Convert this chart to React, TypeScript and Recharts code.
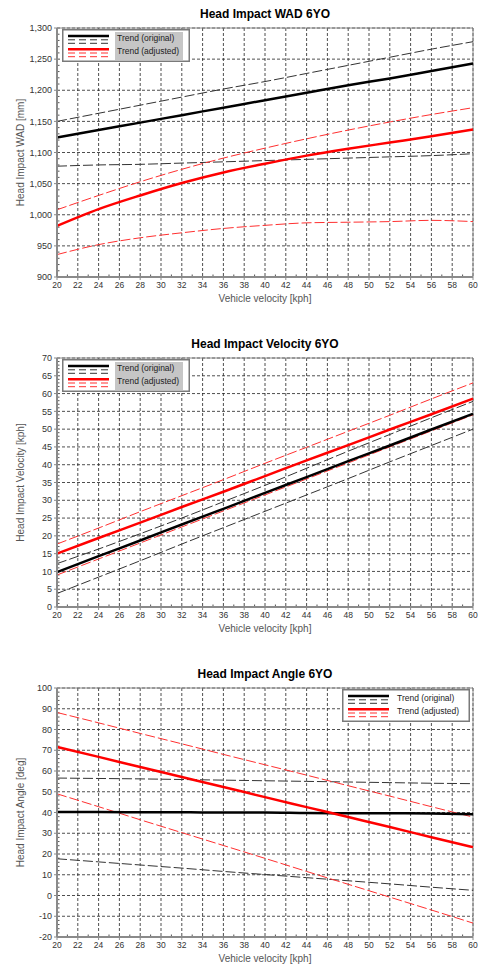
import { LineChart, Line, XAxis, YAxis, CartesianGrid, ReferenceArea, ReferenceLine } from "recharts";

// vehicle velocity [kph] at which each trend value was read
const velocity = [20, 24, 28, 32, 36, 40, 44, 48, 52, 56, 60];
const xTicks = [20, 22, 24, 26, 28, 30, 32, 34, 36, 38, 40, 42, 44, 46, 48, 50, 52, 54, 56, 58, 60];

// Head Impact WAD [mm]
const wadOriginal = [1124, 1136, 1148, 1160, 1172, 1184, 1196, 1208, 1219, 1231, 1243];
const wadOriginalHi = [1150, 1163, 1176, 1189, 1202, 1214, 1227, 1240, 1253, 1266, 1278];
const wadOriginalLo = [1078, 1080, 1081, 1083, 1085, 1087, 1089, 1091, 1093, 1095, 1098];
const wadAdjusted = [982, 1009, 1031, 1051, 1068, 1082, 1095, 1106, 1116, 1126, 1137];
const wadAdjustedHi = [1008, 1031, 1053, 1073, 1091, 1107, 1122, 1136, 1149, 1161, 1172];
const wadAdjustedLo = [936, 952, 963, 971, 978, 983, 987, 988, 989, 991, 989];
const wadTicks = [900, 950, 1000, 1050, 1100, 1150, 1200, 1250, 1300];

// Head Impact Velocity [kph]
const velOriginal = [9.8, 14.3, 18.7, 23.2, 27.6, 32.1, 36.5, 41.0, 45.4, 49.9, 54.3];
const velOriginalHi = [12.2, 16.3, 20.6, 25.0, 29.6, 34.2, 39.0, 43.8, 48.5, 53.2, 57.8];
const velOriginalLo = [3.8, 8.4, 13.0, 17.7, 22.3, 26.9, 31.5, 36.1, 40.8, 45.4, 50.0];
const velAdjusted = [15.0, 19.4, 23.7, 28.1, 32.4, 36.8, 41.2, 45.5, 49.9, 54.2, 58.6];
const velAdjustedHi = [17.7, 22.2, 26.8, 31.3, 35.8, 40.4, 44.9, 49.4, 53.9, 58.5, 63.0];
const velAdjustedLo = [9.0, 13.5, 18.0, 22.5, 27.0, 31.5, 36.0, 40.5, 45.0, 49.5, 54.0];
const velTicks = [0, 5, 10, 15, 20, 25, 30, 35, 40, 45, 50, 55, 60, 65, 70];

// Head Impact Angle [deg]
const angOriginal = [40.3, 40.2, 40.1, 40.1, 40.0, 40.0, 39.7, 39.6, 39.6, 39.5, 39.2];
const angOriginalHi = [56.6, 56.4, 56.2, 55.9, 55.6, 55.3, 55.0, 54.7, 54.4, 54.1, 53.9];
const angOriginalLo = [17.7, 16.2, 14.7, 13.2, 11.6, 10.1, 8.6, 7.1, 5.6, 4.0, 2.5];
const angAdjusted = [71.6, 66.8, 61.9, 57.1, 52.3, 47.4, 42.6, 37.8, 33.0, 28.1, 23.3];
const angAdjustedHi = [88.2, 83.2, 78.1, 73.1, 68.0, 63.0, 58.0, 52.9, 47.9, 42.8, 37.8];
const angAdjustedLo = [49.0, 42.8, 36.5, 30.3, 24.1, 17.9, 11.6, 5.4, -0.8, -7.0, -13.3];
const angTicks = [-20, -10, 0, 10, 20, 30, 40, 50, 60, 70, 80, 90, 100];

const FONT = '"Liberation Sans", Arial, sans-serif';
const RED = "#ff0000";
const RED_DASH = "#ff3030";
const BLACK_DASH = "#333333";
const FRAME = "#8a8a8a";
const PLOT_W = 416;
const PLOT_H = 249;

type Row = { v: number; orig: number; origHi: number; origLo: number; adj: number; adjHi: number; adjLo: number };

function buildRows(orig: number[], origHi: number[], origLo: number[], adj: number[], adjHi: number[], adjLo: number[]): Row[] {
  return velocity.map((v, i) => ({
    v,
    orig: orig[i],
    origHi: origHi[i],
    origLo: origLo[i],
    adj: adj[i],
    adjHi: adjHi[i],
    adjLo: adjLo[i],
  }));
}

// four minor ticks between each pair of major ticks
function minorTicks(major: number[]) {
  const out: number[] = [];
  for (let i = 0; i < major.length - 1; i++) {
    const step = (major[i + 1] - major[i]) / 5;
    for (let k = 1; k < 5; k++) out.push(major[i] + step * k);
  }
  return out;
}

function LegendBox({ left, shaded }: { left: number; shaded: boolean }) {
  const rows = [
    { y: 7, color: "#000", w: 2.5, dash: undefined },
    { y: 10.8, color: BLACK_DASH, w: 1, dash: "7 4" },
    { y: 14.3, color: BLACK_DASH, w: 1, dash: "7 4" },
    { y: 20.3, color: RED, w: 2.5, dash: undefined },
    { y: 24, color: RED_DASH, w: 1, dash: "7 4" },
    { y: 27.7, color: RED_DASH, w: 1, dash: "7 4" },
  ];
  return (
    <svg width={128} height={34} style={{ position: "absolute", left, top: 29, overflow: "visible" }}>
      <rect x={0.75} y={0.75} width={126.5} height={31.5} fill="#fff" stroke="#7a7a7a" strokeWidth={1.5} />
      {shaded && <rect x={53} y={3} width={68} height={28} fill="#c6c6c6" />}
      {rows.map((r, i) => (
        <line key={i} x1={6} x2={47} y1={r.y} y2={r.y} stroke={r.color} strokeWidth={r.w} strokeDasharray={r.dash} />
      ))}
      <text x={55} y={12} fontSize={8.5} fill="#222" fontFamily={FONT}>Trend (original)</text>
      <text x={55} y={25} fontSize={8.5} fill="#222" fontFamily={FONT}>Trend (adjusted)</text>
    </svg>
  );
}

interface PanelProps {
  title: string;
  yLabel: string;
  rows: Row[];
  yTicks: number[];
  legendLeft: number;
  legendShaded: boolean;
}

function Panel({ title, yLabel, rows, yTicks, legendLeft, legendShaded }: PanelProps) {
  const yMin = yTicks[0];
  const yMax = yTicks[yTicks.length - 1];
  const ux = (60 - 20) / PLOT_W;
  const uy = (yMax - yMin) / PLOT_H;
  const xMinor = xTicks.slice(0, -1).map((t) => t + 1);
  const yMinor = minorTicks(yTicks);
  return (
    <div style={{ position: "relative", width: 480, height: 330 }}>
      <div
        style={{
          position: "absolute",
          left: 57,
          top: 6,
          width: 416,
          textAlign: "center",
          fontSize: 12,
          fontWeight: "bold",
          color: "#000",
          lineHeight: "16px",
        }}
      >
        {title}
      </div>
      <LineChart width={480} height={330} data={rows} margin={{ top: 28, right: 7, bottom: 28, left: 0 }}>
        <CartesianGrid stroke="#222" strokeDasharray="3 2" strokeWidth={0.8} />
        <XAxis
          dataKey="v"
          type="number"
          domain={[20, 60]}
          ticks={xTicks}
          interval={0}
          height={25}
          tickSize={3}
          tickMargin={2}
          tick={{ fontSize: 8.5, fill: "#333" }}
          axisLine={{ stroke: FRAME, strokeWidth: 2 }}
          tickLine={{ stroke: FRAME }}
          label={{ value: "Vehicle velocity [kph]", position: "insideBottom", offset: 0, fontSize: 10, fill: "#555" }}
        />
        <YAxis
          type="number"
          domain={[yMin, yMax]}
          ticks={yTicks}
          interval={0}
          width={57}
          tickSize={3}
          tickMargin={2}
          tick={{ fontSize: 9, fill: "#333" }}
          tickFormatter={(t: number) => t.toLocaleString("en-US")}
          axisLine={{ stroke: FRAME, strokeWidth: 2 }}
          tickLine={{ stroke: FRAME }}
          label={{
            value: yLabel,
            angle: -90,
            position: "insideLeft",
            offset: 20,
            fontSize: 10,
            fill: "#555",
            style: { textAnchor: "middle" },
          }}
        />
        <ReferenceArea x1={20} x2={60} y1={yMin} y2={yMax} fill="none" stroke={FRAME} strokeWidth={1} />
        {yMinor.map((t) => (
          <ReferenceLine key={`ym${t}`} segment={[{ x: 20, y: t }, { x: 20 + 2.5 * ux, y: t }]} stroke="#555" strokeWidth={1} />
        ))}
        {xMinor.map((t) => (
          <ReferenceLine key={`xm${t}`} segment={[{ x: t, y: yMin }, { x: t, y: yMin + 2.5 * uy }]} stroke="#555" strokeWidth={1} />
        ))}
        <Line type="monotone" dataKey="origHi" stroke={BLACK_DASH} strokeWidth={1} strokeDasharray="10 3" dot={false} isAnimationActive={false} />
        <Line type="monotone" dataKey="origLo" stroke={BLACK_DASH} strokeWidth={1} strokeDasharray="10 3" dot={false} isAnimationActive={false} />
        <Line type="monotone" dataKey="adjHi" stroke={RED_DASH} strokeWidth={1} strokeDasharray="10 3" dot={false} isAnimationActive={false} />
        <Line type="monotone" dataKey="adjLo" stroke={RED_DASH} strokeWidth={1} strokeDasharray="10 3" dot={false} isAnimationActive={false} />
        <Line type="monotone" dataKey="orig" stroke="#000" strokeWidth={2.5} dot={false} isAnimationActive={false} />
        <Line type="monotone" dataKey="adj" stroke={RED} strokeWidth={2.5} dot={false} isAnimationActive={false} />
      </LineChart>
      <LegendBox left={legendLeft} shaded={legendShaded} />
    </div>
  );
}

export default function App() {
  const wadRows = buildRows(wadOriginal, wadOriginalHi, wadOriginalLo, wadAdjusted, wadAdjustedHi, wadAdjustedLo);
  const velRows = buildRows(velOriginal, velOriginalHi, velOriginalLo, velAdjusted, velAdjustedHi, velAdjustedLo);
  const angRows = buildRows(angOriginal, angOriginalHi, angOriginalLo, angAdjusted, angAdjustedHi, angAdjustedLo);

  return (
    <div
      style={{
        position: "absolute",
        left: 0,
        top: 0,
        width: 480,
        height: 965,
        overflow: "hidden",
        background: "#fff",
        fontFamily: FONT,
      }}
    >
      <Panel title="Head Impact WAD 6YO" yLabel="Head Impact WAD [mm]" rows={wadRows} yTicks={wadTicks} legendLeft={62} legendShaded />
      <Panel title="Head Impact Velocity 6YO" yLabel="Head Impact Velocity [kph]" rows={velRows} yTicks={velTicks} legendLeft={62} legendShaded />
      <Panel title="Head Impact Angle 6YO" yLabel="Head Impact Angle [deg]" rows={angRows} yTicks={angTicks} legendLeft={342} legendShaded={false} />
    </div>
  );
}
